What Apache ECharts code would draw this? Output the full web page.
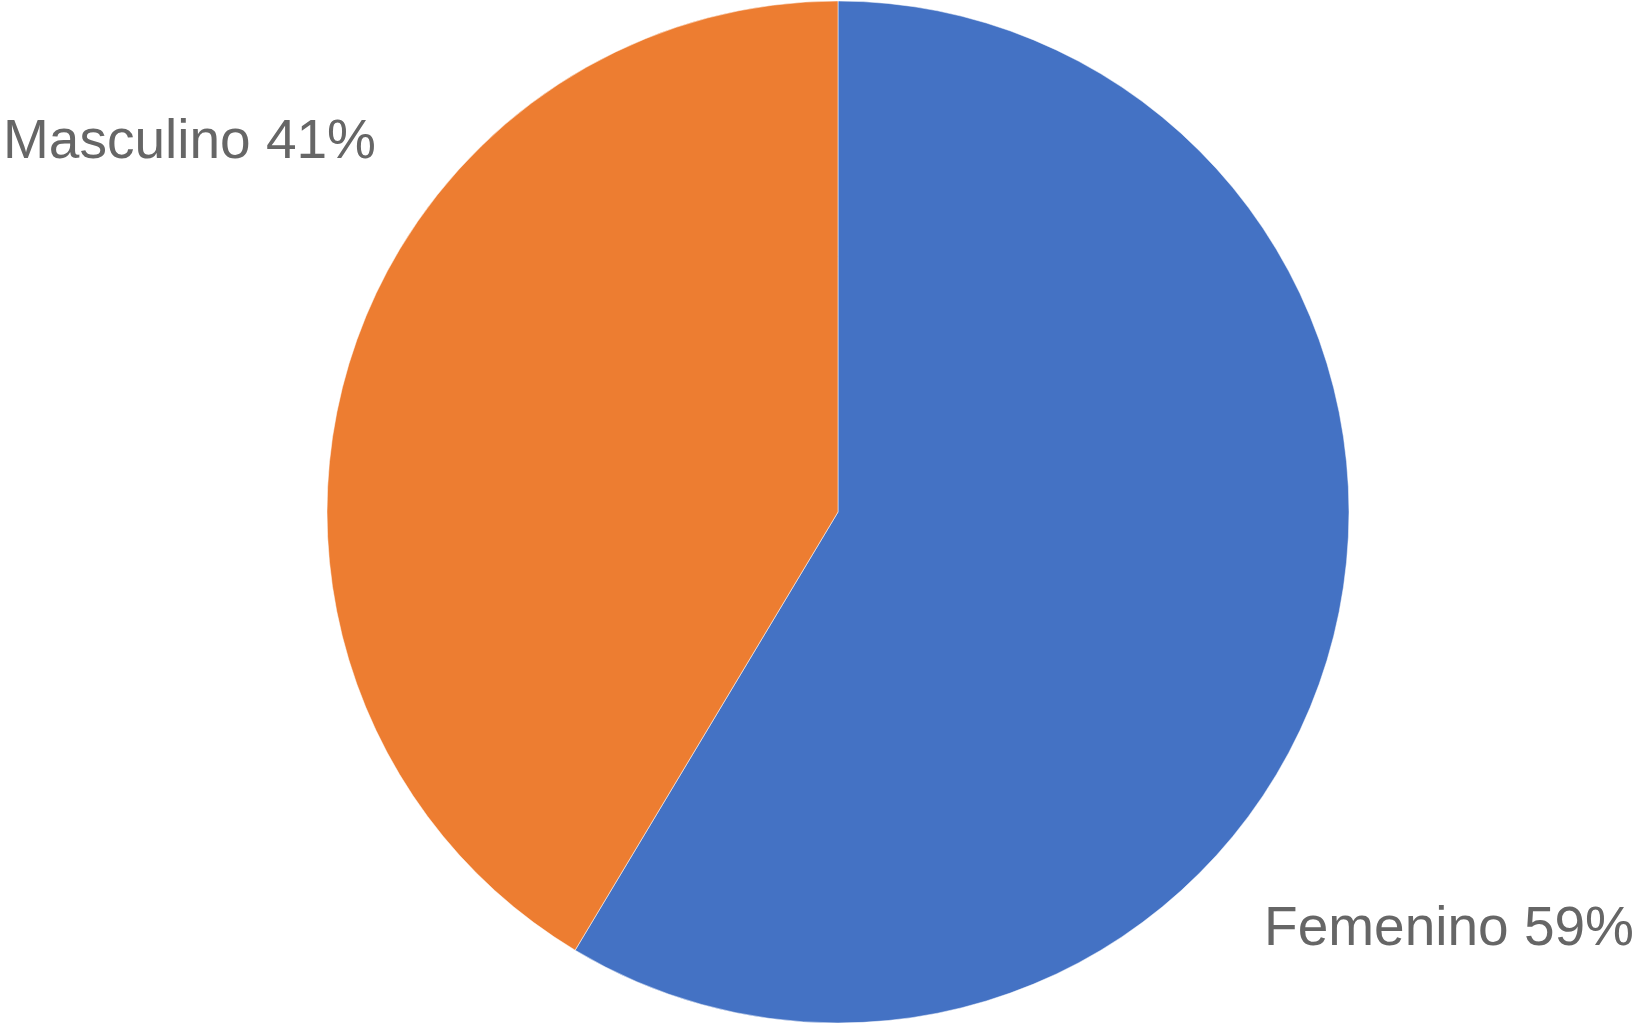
<!DOCTYPE html>
<html>
<head>
<meta charset="utf-8">
<script src="https://cdn.jsdelivr.net/npm/echarts@6/dist/echarts.min.js"></script>
<style>
  html, body { margin: 0; padding: 0; background: #fff; }
  #chart { width: 1637px; height: 1024px; }
</style>
</head>
<body>
<div id="chart"></div>
<script>
var categories = ['Femenino', 'Masculino']
var values = [58.6, 41.4]
var colors = ['#4472C4', '#ED7D31']
// where each label sits (corners of the picture)
var labelSpots = [
  { x: 1634, y: 930, align: 'right' },
  { x: 3, y: 143, align: 'left' }
]

var myChart = echarts.init(document.getElementById('chart'))
var option = {
  animation: false,
  series: [
    {
      type: 'pie',
      center: [838, 512],
      radius: [0, 511],
      startAngle: 90,
      clockwise: true,
      percentPrecision: 0,
      data: categories.map(function (name, i) {
        return { name: name, value: values[i], itemStyle: { color: colors[i] } }
      }),
      itemStyle: { borderColor: '#fff', borderWidth: 0.5 },
      label: {
        show: true,
        position: 'outside',
        formatter: '{b} {d}%',
        color: '#666666',
        fontFamily: '"Liberation Sans", Arial, sans-serif',
        fontSize: 55,
        overflow: 'none'
      },
      labelLine: { show: false },
      labelLayout: function (params) {
        var s = labelSpots[params.dataIndex]
        return { x: s.x, y: s.y, align: s.align, verticalAlign: 'middle' }
      }
    }
  ]
}
option && myChart.setOption(option)
</script>
</body>
</html>
